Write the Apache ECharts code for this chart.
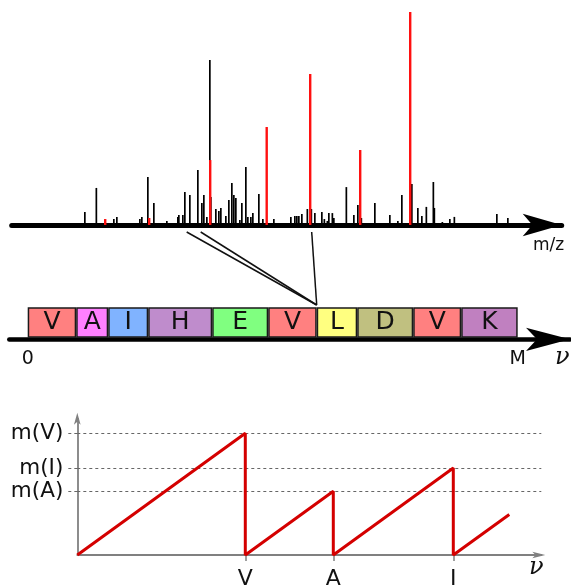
<!DOCTYPE html>
<html>
<head>
<meta charset="utf-8">
<script src="https://cdn.jsdelivr.net/npm/echarts@6/dist/echarts.min.js"></script>
<style>
  html, body { margin: 0; padding: 0; background: #fff; }
  #chart { width: 571px; height: 586px; }
</style>
</head>
<body>
<div id="chart"></div>
<script>
// spectrum peaks (m/z, relative intensity %)
const mzBlack = [147, 170, 205, 211, 257, 261, 273, 285, 311, 333, 335, 343, 347, 357, 373, 381, 385, 391, 397, 399,
  409, 415, 419, 429, 435, 441, 445, 449, 457, 461, 469, 473, 479, 483, 495, 503, 525, 559, 567, 571,
  575, 581, 592, 600, 607, 621, 626, 632, 635, 642, 645, 670, 685, 693, 700, 727, 757, 773, 781, 797,
  801, 813, 821, 830, 844, 846, 862, 877, 886, 971, 993]
const intBlack = [6.1, 17.4, 2.8, 3.8, 2.8, 3.8, 22.5, 10.3, 1.9, 3.8, 4.7, 4.7, 15.5, 14.1, 25.8, 10.3, 14.1, 3.8, 77.5, 13.1,
  7.5, 6.6, 8.0, 4.2, 11.7, 19.7, 14.1, 12.7, 2.3, 10.3, 27.2, 3.8, 3.8, 5.6, 14.6, 2.8, 2.8, 3.8, 4.2, 4.2,
  4.2, 5.2, 7.5, 7.5, 5.6, 6.1, 2.8, 1.9, 5.6, 5.6, 3.3, 17.8, 4.7, 9.4, 3.3, 10.3, 4.7, 1.9, 14.1, 7.5,
  19.2, 8.0, 4.2, 8.5, 20.2, 8.0, 1.4, 2.8, 3.8, 5.2, 3.3]
const mzRed = [187, 275, 397, 510, 597, 697, 797]
const intRed = [2.8, 3.3, 30.5, 46.0, 70.9, 35.2, 100]

// peptide residues and their widths along the mass axis
const residues = ['V', 'A', 'I', 'H', 'E', 'V', 'L', 'D', 'V', 'K']
const residueWidth = [48.5, 32, 40, 64, 56, 48.5, 40.5, 56, 48, 56.5]
const residueColor = ['#ff8080', '#ff80ff', '#80b3ff', '#bf8ccc', '#80ff80', '#ff8080', '#ffff80', '#c0c080', '#ff8080', '#c080c0']

// spectrum peaks linked to the V|L cleavage
const linkMz = [350, 378, 600]
const linkAfter = 6

// sawtooth: mass since last cleavage vs nu
const sawNu = [0, 168, 168, 256, 256, 376, 376, 432]
const sawMass = [0, 168, 0, 88, 0, 120, 0, 56]
const massTicks = [88, 120, 168]
const massLabels = ['m(A)', 'm(I)', 'm(V)']
const nuTicks = [168, 256, 376]
const nuLabels = ['V', 'A', 'I']

const font = 'DejaVu Sans'
const total = residueWidth.reduce((a, b) => a + b, 0)
const chart = echarts.init(document.getElementById('chart'))

const pepSeries = residues.map((r, i) => ({
  type: 'bar',
  name: r + i,
  xAxisIndex: 1,
  yAxisIndex: 1,
  stack: 'pep',
  barWidth: 30.4,
  data: [residueWidth[i]],
  itemStyle: { color: residueColor[i], borderColor: '#1a1a1a', borderWidth: 1.5 },
  label: { show: true, position: 'inside', formatter: r, fontSize: 25, color: '#111', fontFamily: font }
}))

chart.setOption({
  animation: false,
  grid: [
    { left: 11.7, right: 9.3, top: 12, bottom: 361, outerBoundsMode: 'none' },
    { left: 9.3, right: 1, top: 305.7, height: 33.6, outerBoundsMode: 'none' },
    { left: 77.3, right: 29.7, top: 418.8, bottom: 31, outerBoundsMode: 'none' }
  ],
  xAxis: [
    {
      gridIndex: 0, type: 'value', min: 0, max: 1100,
      axisLine: { show: true, onZero: false, lineStyle: { color: '#000', width: 5, cap: 'round' }, symbol: ['none', 'arrow'], symbolSize: [17, 39] },
      axisTick: { show: false }, axisLabel: { show: false }, splitLine: { show: false }
    },
    {
      gridIndex: 1, type: 'value', min: -18.4, max: 542.3,
      axisLine: { show: true, onZero: false, lineStyle: { color: '#000', width: 4.5, cap: 'round' }, symbol: ['none', 'arrow'], symbolSize: [17.5, 44] },
      axisTick: { show: false }, splitLine: { show: false },
      axisLabel: {
        customValues: [0, total], margin: 10, fontSize: 19, color: '#111', fontFamily: font,
        formatter: v => v === 0 ? '0' : 'M'
      }
    },
    {
      gridIndex: 2, type: 'value', min: 0, max: 464,
      axisLine: { show: true, onZero: false, lineStyle: { color: '#808080', width: 1.8 }, symbol: ['none', 'arrow'], symbolSize: [5, 13], symbolOffset: [0, 4] },
      axisTick: { customValues: nuTicks, length: 6, lineStyle: { color: '#808080', width: 1.5 } },
      axisLabel: {
        customValues: nuTicks, margin: 13, fontSize: 22, color: '#111', fontFamily: font,
        formatter: v => nuLabels[nuTicks.indexOf(v)]
      },
      splitLine: { show: false }
    }
  ],
  yAxis: [
    { gridIndex: 0, type: 'value', min: 0, max: 100, show: false },
    { gridIndex: 1, type: 'category', data: ['peptide'], show: false },
    {
      gridIndex: 2, type: 'value', min: 0, max: 188,
      axisLine: { show: true, onZero: false, lineStyle: { color: '#808080', width: 1.8 }, symbol: ['none', 'arrow'], symbolSize: [5, 12], symbolOffset: [0, 6] },
      axisTick: { show: true, customValues: massTicks, length: 9, lineStyle: { color: '#666', width: 1, type: [3, 3] } },
      axisLabel: {
        customValues: massTicks, margin: 14, fontSize: 21.5, color: '#111', fontFamily: font,
        formatter: v => massLabels[massTicks.indexOf(v)]
      },
      splitLine: { show: false }
    }
  ],
  series: [
    {
      type: 'bar', name: 'peaks', xAxisIndex: 0, yAxisIndex: 0, barWidth: 1.7, barGap: '-100%',
      data: mzBlack.map((m, i) => [m, intBlack[i]]),
      itemStyle: { color: '#000' }
    },
    {
      type: 'bar', name: 'matched', xAxisIndex: 0, yAxisIndex: 0, barWidth: 2.4, barGap: '-100%',
      data: mzRed.map((m, i) => [m, intRed[i]]),
      itemStyle: { color: '#ff1010' }
    },
    ...pepSeries,
    {
      type: 'line', name: 'saw', xAxisIndex: 2, yAxisIndex: 2,
      data: sawNu.map((n, i) => [n, sawMass[i]]),
      showSymbol: false,
      lineStyle: { color: '#d40000', width: 3 },
      markLine: {
        silent: true, symbol: 'none', label: { show: false },
        lineStyle: { color: '#666', width: 1, type: [3, 3] },
        data: massTicks.map(m => ({ yAxis: m }))
      },
      z: 5
    }
  ]
})

// connectors from spectrum peaks to the cleavage point in the peptide
const cut = residueWidth.slice(0, linkAfter).reduce((a, b) => a + b, 0)
const join = chart.convertToPixel({ xAxisIndex: 1, yAxisIndex: 1 }, [cut, 0])
const links = linkMz.map((mz, i) => {
  const p = chart.convertToPixel({ xAxisIndex: 0, yAxisIndex: 0 }, [mz, 0])
  return {
    type: 'line', id: 'link' + i,
    shape: { x1: p[0], y1: p[1] + 7, x2: join[0], y2: join[1] - 17.5 },
    style: { stroke: '#111', lineWidth: 1.5 }
  }
})

chart.setOption({
  graphic: [
    ...links,
    { type: 'text', id: 'mz', left: 533, top: 237, style: { text: 'm/z', font: '17px "DejaVu Sans"', fill: '#111' } },
    { type: 'text', id: 'nu1', left: 555, top: 346, style: { text: 'ν', font: 'italic 24px "DejaVu Serif"', fill: '#111' } },
    { type: 'text', id: 'nu2', left: 529, top: 556, style: { text: 'ν', font: 'italic 24px "DejaVu Serif"', fill: '#111' } }
  ]
})
</script>
</body>
</html>
